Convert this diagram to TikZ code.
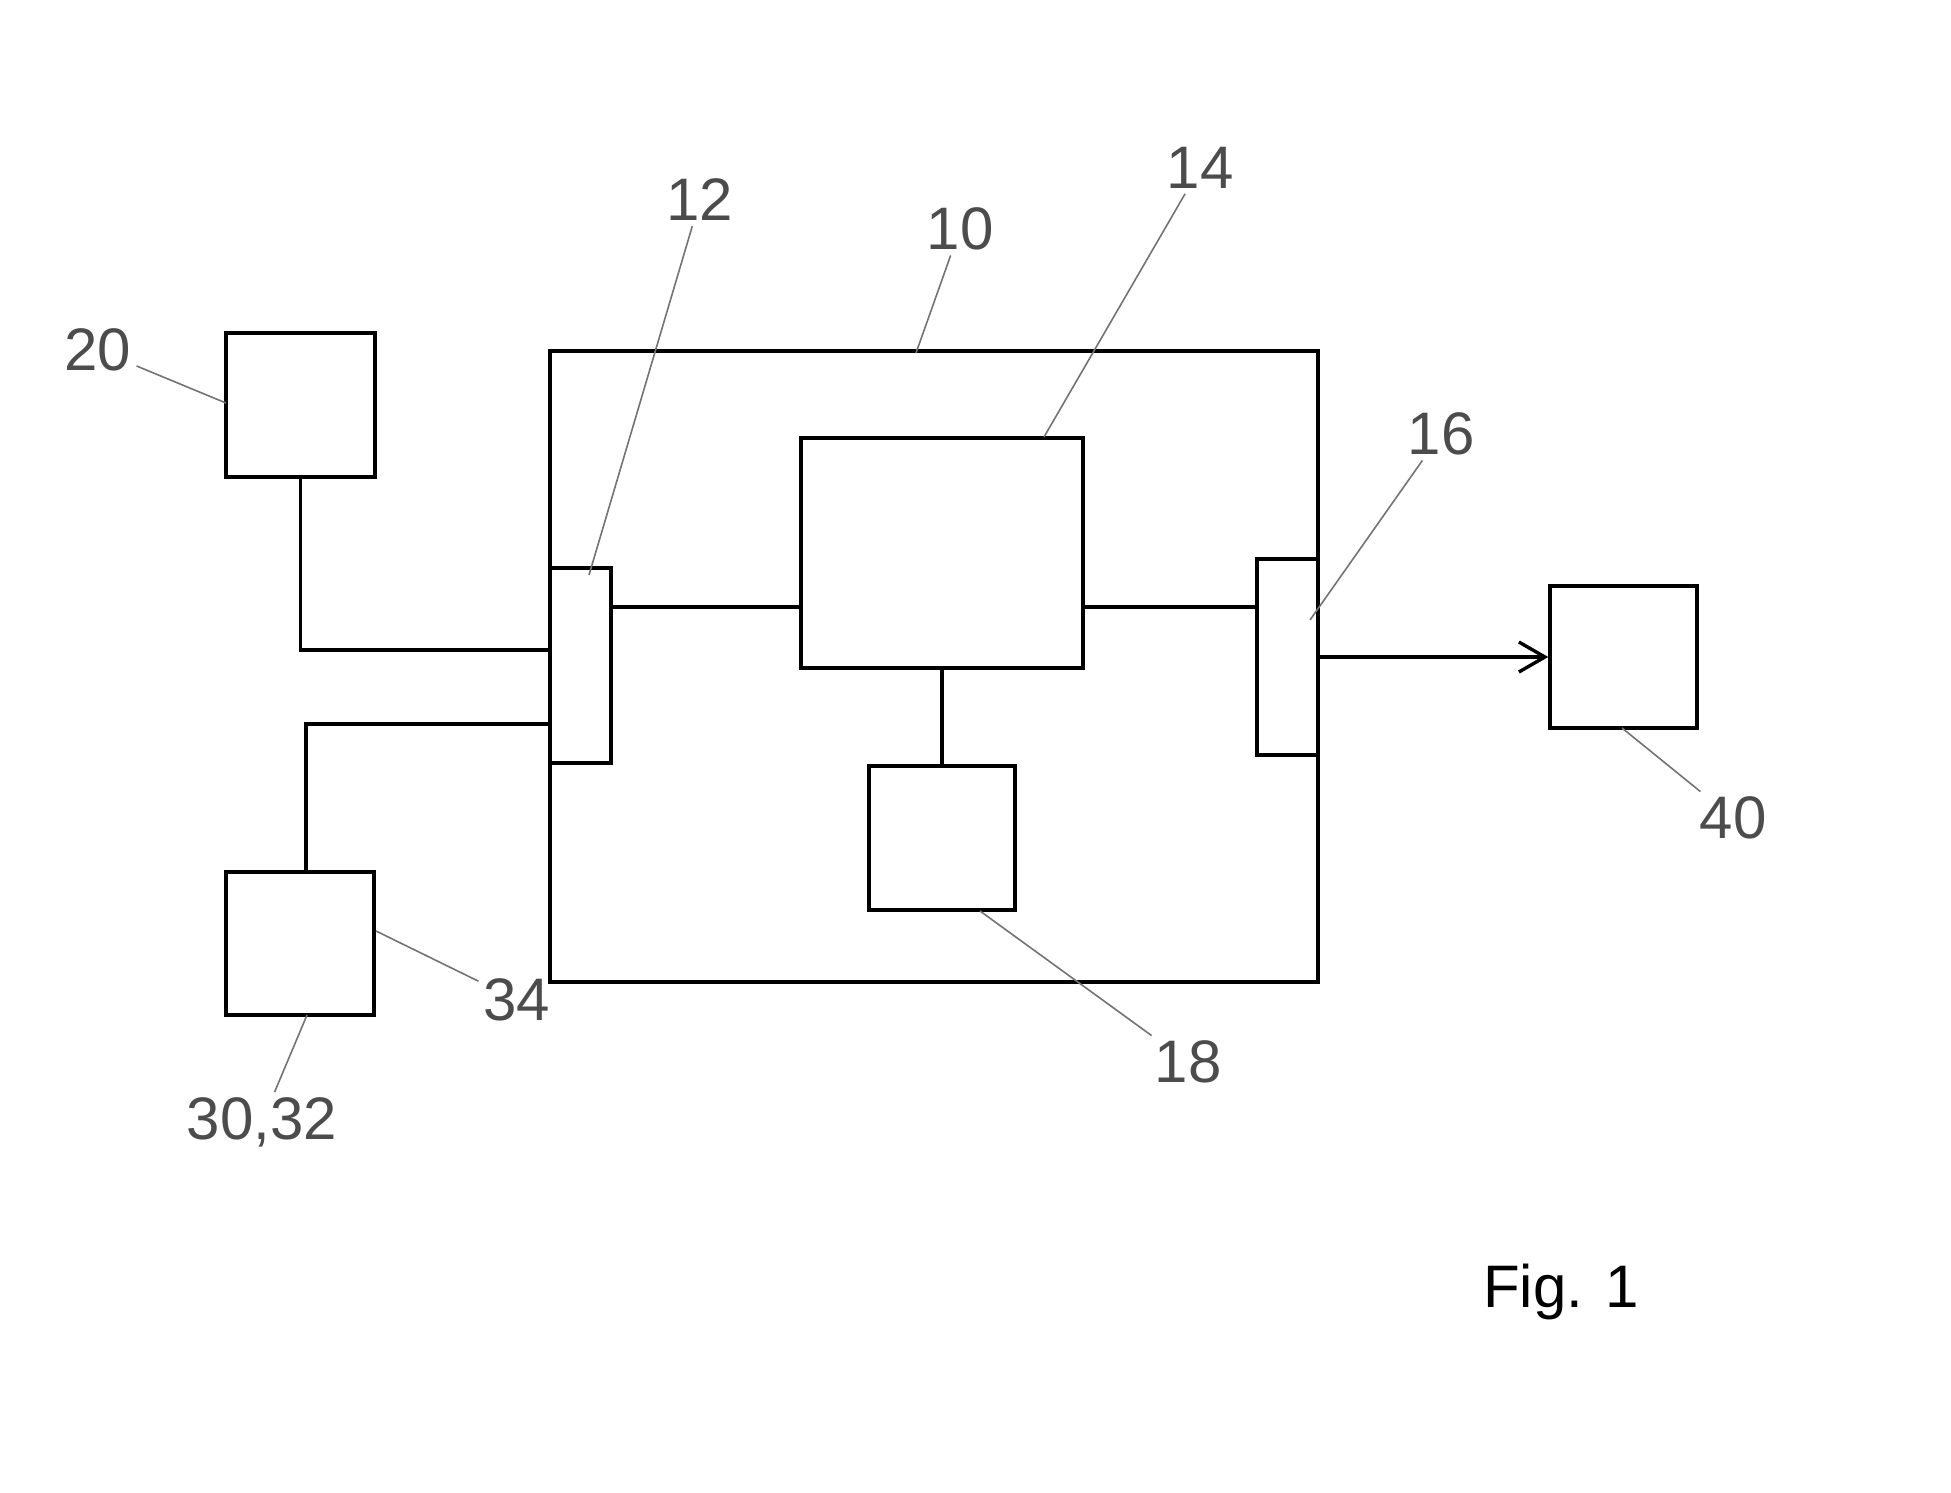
\documentclass[tikz,border=0pt]{standalone}
\usepackage{fontspec}
\setmainfont{Liberation Sans}
\usetikzlibrary{arrows.meta}

\begin{document}
\begin{tikzpicture}[x=1pt, y=-1pt,
			 caja/.style={rectangle, draw, line width=3.4pt, inner sep=0pt},
			 linea/.style={line width=3.4pt},
			 guia/.style={line width=1.6pt, black!55},
			 etiqueta/.style={inner sep=5pt, text=black!70, font=\fontsize{60}{60}\selectfont}
  		]
	\useasboundingbox (0,0) rectangle (1951,1492);

	%Cajas
		\node[caja, minimum width=768pt, minimum height=631pt] (c10) at (934,666.5) {};
		\node[caja, minimum width=61pt, minimum height=195pt] (c12) at (580.5,665.5) {};
		\node[caja, minimum width=282pt, minimum height=230pt] (c14) at (942,553) {};
		\node[caja, minimum width=61pt, minimum height=196pt] (c16) at (1287.5,657) {};
		\node[caja, minimum width=146pt, minimum height=144pt] (c18) at (942,838) {};
		\node[caja, minimum width=149pt, minimum height=144pt] (c20) at (300.5,405) {};
		\node[caja, minimum width=148pt, minimum height=143pt] (c30) at (300,943.5) {};
		\node[caja, minimum width=147pt, minimum height=142pt] (c40) at (1623.5,657) {};

	%Conexiones
		\coordinate (e20) at ([yshift=15.5pt]c12.west);
		\coordinate (e30) at ([yshift=-58.5pt]c12.west);
		\coordinate (e14) at ([yshift=58.5pt]c12.east);
		\coordinate (s14) at ([yshift=50pt]c16.west);
		\draw[linea] (c20.south) |- (e20);
		\draw[linea] ([xshift=6pt]c30.north) |- (e30);
		\draw[linea] (e14) -- (e14 -| c14.west);
		\draw[linea] (s14) -- (s14 -| c14.east);
		\draw[linea] (c14.south) -- (c18.north);
		\draw[linea, -{Straight Barb[length=26pt, width=30pt]}] (c16.east) -- (c40.west);

	%Etiquetas
		\node[etiqueta] (l10) at (960,229) {10};
		\node[etiqueta] (l12) at (700,200) {12};
		\node[etiqueta] (l14) at (1200,168) {14};
		\node[etiqueta] (l16) at (1441,434) {16};
		\node[etiqueta] (l18) at (1188,1062) {18};
		\node[etiqueta] (l20) at (98,350) {20};
		\node[etiqueta] (l30) at (262,1122) {30,32};
		\node[etiqueta] (l34) at (517,1000) {34};
		\node[etiqueta] (l40) at (1733,818) {40};
	%Lineas de referencia
		\coordinate (p10) at (916,353);
		\coordinate (p12) at (589,575);
		\coordinate (p14) at (1044,437);
		\coordinate (p16) at (1310,620);
		\coordinate (p18) at (980,911);
		\coordinate (p20) at (226,403);
		\coordinate (p30) at (307,1015);
		\coordinate (p34) at (376,931);
		\coordinate (p40) at (1622,728);
		\draw[guia] (l10) -- (p10);
		\draw[guia] (l12) -- (p12);
		\draw[guia] (l14) -- (p14);
		\draw[guia] (l16) -- (p16);
		\draw[guia] (l18) -- (p18);
		\draw[guia] (l20) -- (p20);
		\draw[guia] (l30) -- (p30);
		\draw[guia] (l34) -- (p34);
		\draw[guia] (l40) -- (p40);

	\node[anchor=base west, inner sep=0pt, font=\fontsize{60}{60}\selectfont] (fig) at (1483,1307) {Fig. 1};
	\end{tikzpicture}
\end{document}
